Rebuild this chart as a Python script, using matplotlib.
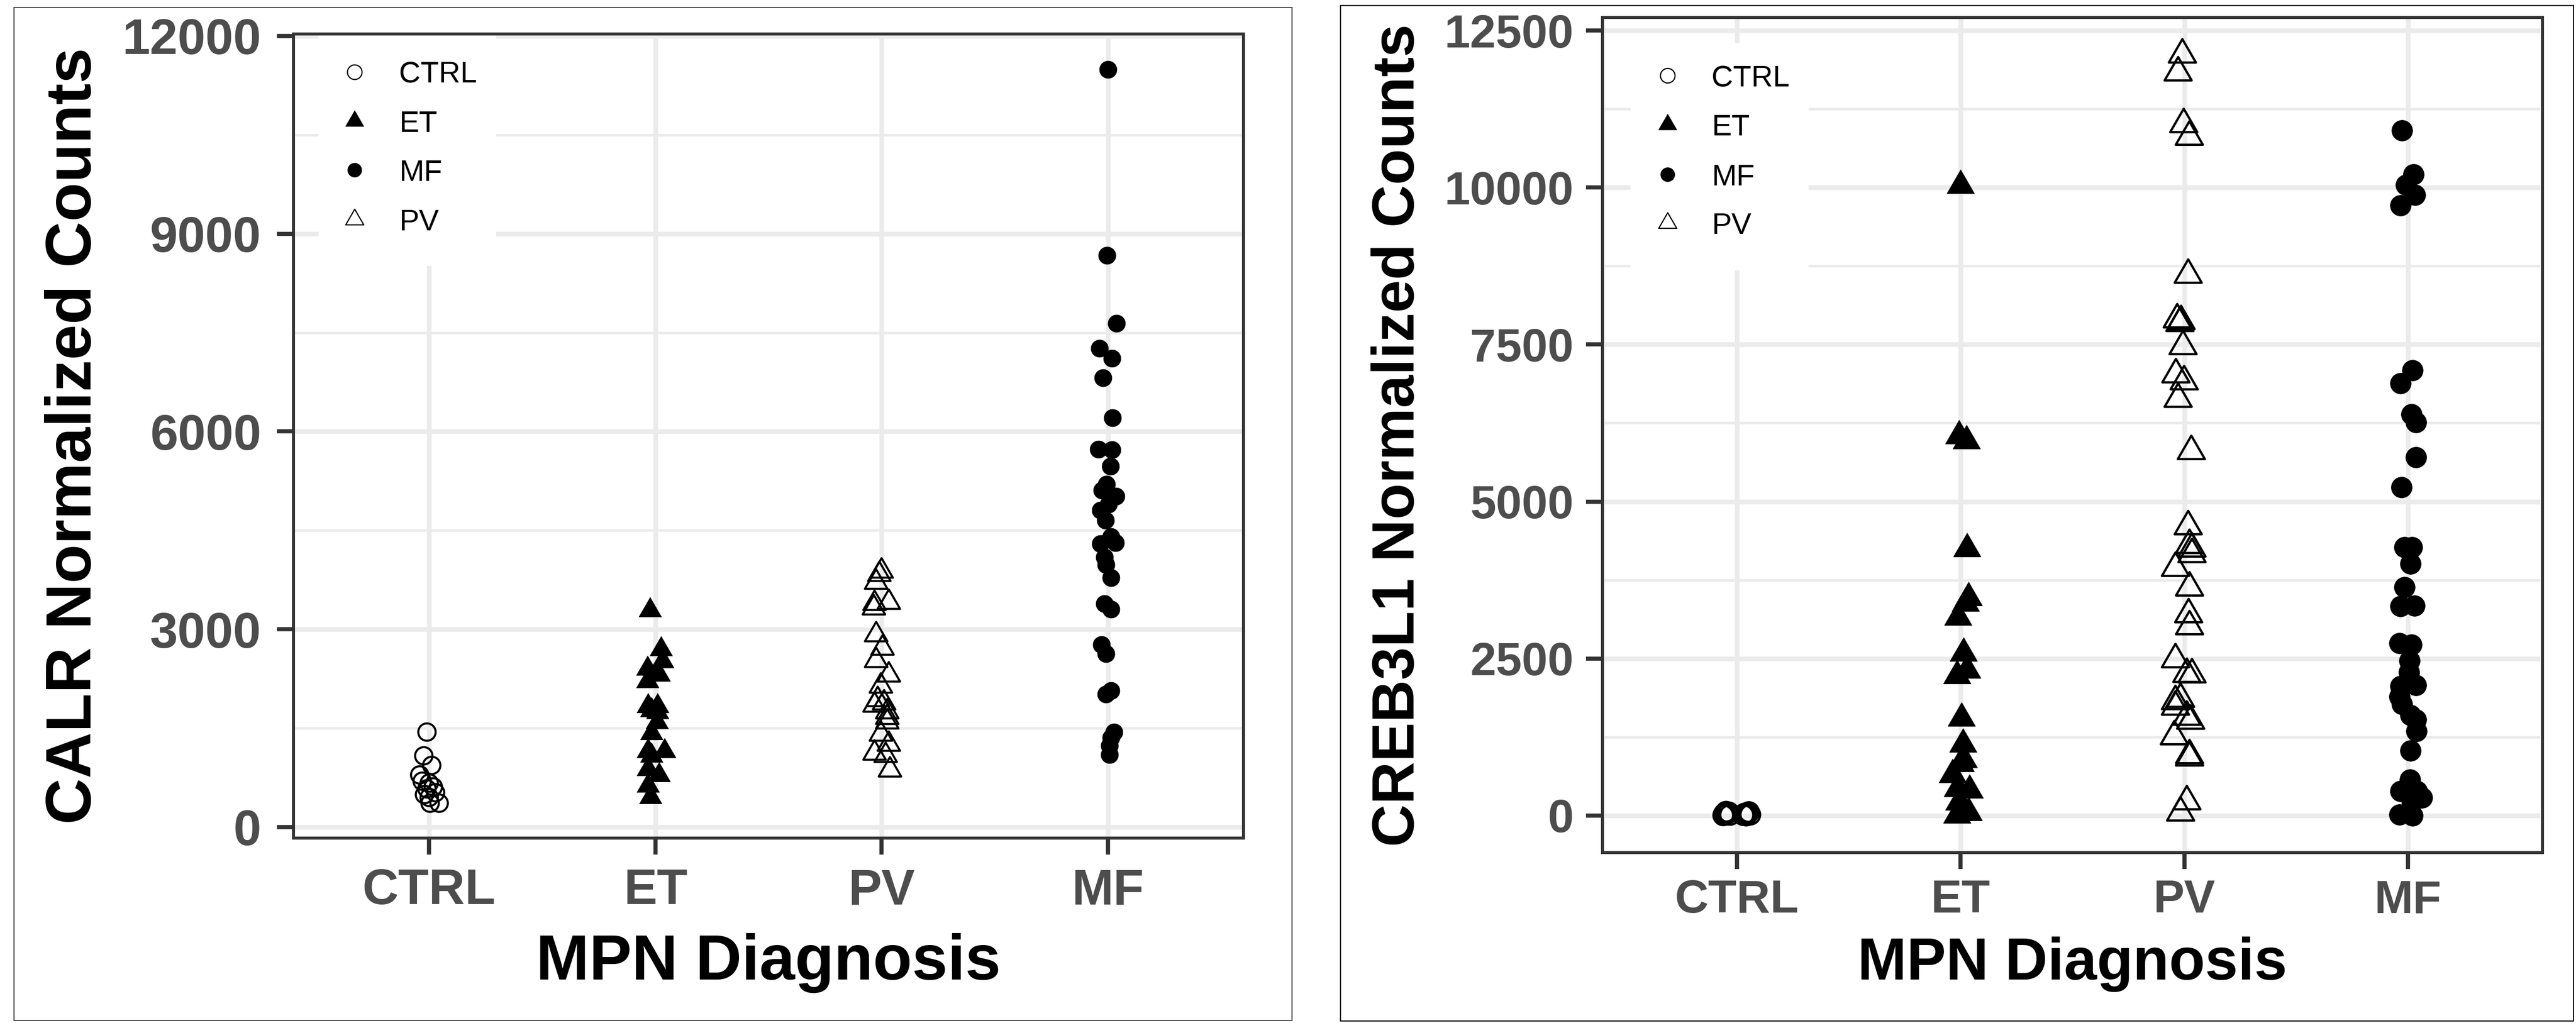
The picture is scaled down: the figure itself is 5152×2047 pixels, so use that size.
import numpy as np
import matplotlib
matplotlib.use("Agg")
import matplotlib.pyplot as plt
from matplotlib.path import Path
from matplotlib.patches import Rectangle
from matplotlib.ticker import FixedLocator

plt.rcParams['font.family'] = ['Liberation Sans', 'DejaVu Sans']

# ---------------- data ----------------
categories = ["CTRL", "ET", "PV", "MF"]
legend_order = ["CTRL", "ET", "MF", "PV"]

# CALR panel (values, horizontal jitter in category units)
calr_ctrl = [1441, 1081, 936, 791, 696, 667, 609, 580, 522, 493, 450, 362, 362]
calr_ctrl_jit = [-0.010, -0.024, 0.011, -0.042, -0.031, 0.0, 0.018, -0.010, 0.028, -0.021, 0.0, 0.004, 0.044]
calr_et = [3290, 2695, 2516, 2405, 2313, 2211, 1834, 1834, 1776, 1747, 1588, 1428, 1153, 1153, 1081, 878, 791, 631, 457]
calr_et_jit = [-0.025, 0.024, 0.031, -0.035, 0.017, -0.035, -0.032, 0.010, -0.018, 0.010, 0.006, -0.018, -0.032, 0.041, -0.018, -0.032, 0.017, -0.032, -0.021]
calr_pv = [3882, 3831, 3713, 3408, 3391, 3323, 2916, 2713, 2526, 2306, 2137, 1933, 1882, 1848, 1747, 1662, 1594, 1408, 1255, 1120, 1086, 865]
calr_pv_jit = [0.0, -0.010, -0.024, 0.032, -0.031, -0.034, -0.024, 0.004, -0.024, 0.032, -0.003, -0.017, 0.011, -0.031, 0.025, 0.025, 0.025, -0.003, 0.032, -0.031, 0.018, 0.037]
calr_mf = [11495, 8671, 7642, 7259, 7110, 6818, 6207, 5732, 5725, 5470, 5199, 5107, 5019, 4893, 4808, 4656, 4401, 4316, 4299, 4096, 3977, 3780, 3390, 3305, 2763, 2627, 2068, 2017, 1441, 1356, 1237, 1102]
calr_mf_jit = [0.0, -0.004, 0.039, -0.037, 0.018, -0.022, 0.020, -0.041, 0.018, 0.011, -0.005, -0.026, 0.037, 0.004, -0.033, -0.011, 0.015, 0.033, -0.033, -0.015, -0.007, 0.014, -0.014, 0.014, -0.028, -0.007, 0.014, -0.007, 0.028, 0.014, 0.007, 0.007]

# CREB3L1 panel
creb_ctrl = [5, 20, 35, 50, 12, 28, 42, 60, 8, 22, 38, 55, 15, 30, 46, 2]
creb_ctrl_jit = [-0.060, -0.052, -0.044, -0.036, -0.030, -0.056, -0.040, -0.048, 0.030, 0.038, 0.046, 0.054, 0.060, 0.034, 0.050, 0.042]
creb_et = [10033, 6051, 5971, 4248, 3468, 3380, 3160, 2582, 2316, 2227, 1553, 1135, 890, 826, 656, 408, 426, 213, 46, 10]
creb_et_jit = [0.0, -0.007, 0.026, 0.028, 0.036, 0.021, -0.011, 0.014, 0.028, -0.017, 0.004, 0.010, 0.014, 0.0, -0.036, 0.040, -0.014, -0.007, 0.036, -0.017]
creb_pv = [12114, 11829, 11006, 10805, 8607, 7897, 7870, 7840, 7471, 7022, 6911, 6632, 5800, 4603, 4305, 4248, 4160, 3940, 3628, 3202, 3011, 2486, 2252, 2245, 1855, 1819, 1731, 1507, 1571, 1259, 958, 922, 224, 46]
creb_pv_jit = [-0.009, -0.028, -0.003, 0.022, 0.017, -0.032, -0.015, -0.020, -0.006, -0.038, -0.001, -0.028, 0.031, 0.017, 0.023, 0.034, 0.034, -0.040, 0.023, 0.019, 0.023, -0.040, 0.011, 0.034, -0.017, -0.040, -0.040, 0.028, 0.011, -0.045, 0.023, 0.023, 0.011, -0.017]
creb_mf = [10905, 10205, 10041, 9880, 9713, 7087, 6880, 6388, 6262, 5705, 5231, 4273, 4273, 4007, 3635, 3333, 3340, 2748, 2723, 2464, 2287, 2074, 2057, 1897, 1773, 1596, 1525, 1347, 1035, 574, 390, 390, 284, 213, 18, 0]
creb_mf_jit = [-0.028, 0.023, -0.011, 0.031, -0.034, 0.019, -0.034, 0.015, 0.034, 0.034, -0.031, -0.017, 0.017, 0.011, -0.017, -0.034, 0.028, -0.038, 0.015, 0.006, 0.003, 0.034, -0.034, -0.040, -0.028, 0.011, 0.034, 0.038, 0.011, 0.008, -0.034, 0.040, 0.062, 0.017, -0.040, 0.019]

calr_yticks = [0, 3000, 6000, 9000, 12000]
calr_yminor = [1500, 4500, 7500, 10500]
creb_yticks = [0, 2500, 5000, 7500, 10000, 12500]
creb_yminor = [1250, 3750, 6250, 8750, 11250]

# ---------------- figure ----------------
W, H, DPI = 5152, 2047, 100
fig = plt.figure(figsize=(W / DPI, H / DPI), dpi=DPI)
fig.patch.set_facecolor('white')

TRI = Path([(0, 1), (-0.8660254, -0.5), (0.8660254, -0.5), (0, 1)],
           [Path.MOVETO, Path.LINETO, Path.LINETO, Path.CLOSEPOLY])
marker_of = {"CTRL": 'o', "ET": TRI, "PV": TRI, "MF": 'o'}
filled_of = {"CTRL": False, "ET": True, "PV": False, "MF": True}

GRID = '#EBEBEB'
DARK = '#333333'
TICKC = '#4D4D4D'


def add_panel(ax_px, ylim, yticks, yminor, ylabel, groups, sizes, fs_tick, fs_title,
              ypad, xpad, ylab_x, xlab_base, leg):
    l, t, r, b = ax_px
    ax = fig.add_axes([l / W, 1 - b / H, (r - l) / W, (b - t) / H])
    aw, ah = r - l, b - t

    def fx(px):
        return (px - l) / aw

    def fy(py):
        return (b - py) / ah

    ax.set_xlim(-0.6, len(categories) - 0.4)
    ax.set_ylim(*ylim)
    ax.set_axisbelow(True)
    ax.xaxis.set_major_locator(FixedLocator(range(len(categories))))
    ax.set_xticklabels(categories)
    ax.yaxis.set_major_locator(FixedLocator(yticks))
    ax.yaxis.set_minor_locator(FixedLocator(yminor))
    ax.set_yticklabels([str(v) for v in yticks])
    ax.grid(True, which='major', axis='both', color=GRID, lw=6.8)
    ax.grid(True, which='minor', axis='y', color=GRID, lw=3.8)
    ax.tick_params(which='major', length=23.5, width=6.0, color=DARK,
                   labelcolor=TICKC, labelsize=fs_tick)
    ax.tick_params(axis='y', pad=ypad)
    ax.tick_params(axis='x', pad=xpad)
    ax.tick_params(which='minor', length=0)
    for lab in ax.get_xticklabels() + ax.get_yticklabels():
        lab.set_fontweight('bold')
    for sp in ax.spines.values():
        sp.set_color(DARK)
        sp.set_linewidth(4.3)

    for i, cat in enumerate(categories):
        vals, jit = groups[cat]
        x = i + np.asarray(jit)
        s, lw = sizes[cat]
        if filled_of[cat]:
            ax.scatter(x, vals, marker=marker_of[cat], s=s, c='black',
                       edgecolors='black', linewidths=lw, zorder=3)
        else:
            ax.scatter(x, vals, marker=marker_of[cat], s=s, facecolors='none',
                       edgecolors='black', linewidths=lw, zorder=3)

    # legend (inside, top-left, white box)
    bx0, by0, bx1, by1, keyx, rows, textx = leg
    ax.add_patch(Rectangle((fx(bx0), fy(by1)), fx(bx1) - fx(bx0), fy(by0) - fy(by1),
                           transform=ax.transAxes, facecolor='white', edgecolor='none',
                           zorder=1))
    leg_ms = {"CTRL": 21, "ET": 30, "MF": 20, "PV": 30}
    for cat, ry in zip(legend_order, rows):
        if filled_of[cat]:
            ax.plot([fx(keyx)], [fy(ry)], transform=ax.transAxes, ls='none',
                    marker=marker_of[cat], ms=leg_ms[cat], mfc='black', mec='black',
                    mew=0.8, zorder=4, clip_on=False)
        else:
            ax.plot([fx(keyx)], [fy(ry)], transform=ax.transAxes, ls='none',
                    marker=marker_of[cat], ms=leg_ms[cat], mfc='none', mec='black',
                    mew=1.7, zorder=4, clip_on=False)
        ax.text(fx(textx), fy(ry + 22), cat, transform=ax.transAxes, ha='left',
                va='baseline', fontsize=43, color='black', zorder=4)

    ax.set_ylabel(ylabel, fontsize=fs_title, fontweight='bold', color='black',
                  rotation=90, rotation_mode='anchor', ha='center', va='baseline')
    ax.yaxis.set_label_coords(fx(ylab_x), 0.5)
    ax.set_xlabel("MPN Diagnosis", fontsize=fs_title, fontweight='bold',
                  color='black', va='baseline', ha='center')
    ax.xaxis.set_label_coords(0.5, fy(xlab_base))
    return ax


calr_groups = {"CTRL": (calr_ctrl, calr_ctrl_jit), "ET": (calr_et, calr_et_jit),
               "PV": (calr_pv, calr_pv_jit), "MF": (calr_mf, calr_mf_jit)}
creb_groups = {"CTRL": (creb_ctrl, creb_ctrl_jit), "ET": (creb_et, creb_et_jit),
               "PV": (creb_pv, creb_pv_jit), "MF": (creb_mf, creb_mf_jit)}

add_panel((587, 68, 2487, 1677), (-167, 12030), calr_yticks, calr_yminor,
          "CALR Normalized Counts", calr_groups,
          {"CTRL": (625, 3.0), "ET": (1400, 0.6), "PV": (1400, 3.0), "MF": (625, 0.6)},
          72, 92, 23, 19, 182, 1960,
          (637, 60, 992, 532, 709, [143.5, 241.5, 340, 439], 798))

add_panel((3205, 35, 5085, 1706), (-589, 12707), creb_yticks, creb_yminor,
          "CREB3L1 Normalized Counts", creb_groups,
          {"CTRL": (800, 3.4), "ET": (2090, 0.6), "PV": (2025, 3.3), "MF": (900, 0.6)},
          67, 85, 18, 15, 2828, 1960,
          (3261, 86, 3617, 541, 3335, [151, 249, 349, 446], 3423))

# outer frames of the two panels
for (x0, y0, x1, y1, col) in [(28, 15, 2584, 2042, '#444444'), (2681, 11, 5147, 2043, 'black')]:
    fig.add_artist(Rectangle((x0 / W, 1 - y1 / H), (x1 - x0) / W, (y1 - y0) / H,
                             transform=fig.transFigure, fill=False, lw=1.6, edgecolor=col))

fig.savefig("out.png", dpi=DPI, facecolor='white')
